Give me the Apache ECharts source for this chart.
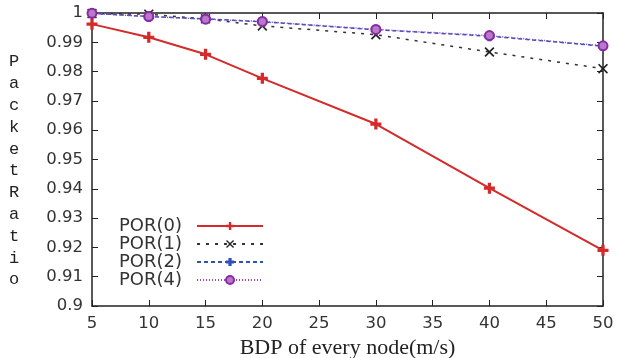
<!DOCTYPE html>
<html>
<head>
<meta charset="utf-8">
<script src="https://cdn.jsdelivr.net/npm/echarts@6/dist/echarts.min.js"></script>
<style>
  html, body {margin: 0; padding: 0; background: #fff;}
  #chart {width: 617px; height: 358px;}
</style>
</head>
<body>
<div id="chart"></div>
<script>
// data
const bdp = [5, 10, 15, 20, 30, 40, 50];
const por0 = [0.9962, 0.9917, 0.9859, 0.9777, 0.9621, 0.9402, 0.9190];
const por1 = [0.9998, 0.9996, 0.9980, 0.9956, 0.9926, 0.9867, 0.9810];
const por2 = [0.9999, 0.9988, 0.9980, 0.9970, 0.9943, 0.9921, 0.9887];
const por4 = [0.9999, 0.9988, 0.9979, 0.9971, 0.9944, 0.9923, 0.9888];
const seriesNames = ['POR(0)', 'POR(1)', 'POR(2)', 'POR(4)'];

const pairs = (ys) => bdp.map((x, i) => [x, ys[i]]);

const plusIcon = 'path://M3.5,0H6.5V3.5H10V6.5H6.5V10H3.5V6.5H0V3.5H3.5Z';
const crossIcon = 'path://M0,1.2L1.2,0L5,3.8L8.8,0L10,1.2L6.2,5L10,8.8L8.8,10L5,6.2L1.2,10L0,8.8L3.8,5Z';
const starIcon = 'path://M3,0H7V3H10V7H7V10H3V7H0V3H3Z';

const chart = echarts.init(document.getElementById('chart'));

const tickFont = {fontFamily: 'DejaVu Sans', fontSize: 16.5, color: '#333'};
const axisLine = {lineStyle: {color: '#222', width: 1.5}};

chart.setOption({
  animation: false,
  grid: {left: 92, right: 14, top: 13, bottom: 52, outerBoundsMode: 'none', containLabel: false},
  legend: {
    orient: 'vertical',
    left: 114,
    top: 212,
    align: 'right',
    itemWidth: 66,
    itemHeight: 10,
    itemGap: 0,
    data: seriesNames,
    textStyle: {
      fontFamily: 'DejaVu Sans', fontSize: 18, color: '#333',
      lineHeight: 17.5, padding: [0, 10, 0, 0]
    }
  },
  xAxis: [
    {
      type: 'value', min: 5, max: 50, interval: 5,
      axisLine: axisLine,
      axisTick: {inside: true, length: 6, lineStyle: {color: '#222'}},
      axisLabel: Object.assign({margin: 9}, tickFont),
      splitLine: {show: false},
      name: 'BDP of every node(m/s)',
      nameLocation: 'middle',
      nameGap: 29,
      nameTextStyle: {fontFamily: 'Liberation Serif', fontSize: 22, color: '#222'}
    },
    {
      type: 'value', min: 5, max: 50, interval: 5, position: 'top',
      axisLine: axisLine,
      axisTick: {inside: true, length: 6, lineStyle: {color: '#222'}},
      axisLabel: {show: false},
      splitLine: {show: false}
    }
  ],
  yAxis: [
    {
      type: 'value', min: 0.9, max: 1, interval: 0.01,
      axisLine: axisLine,
      axisTick: {inside: true, length: 6, lineStyle: {color: '#222'}},
      axisLabel: Object.assign({margin: 9}, tickFont),
      splitLine: {show: false}
    },
    {
      type: 'value', min: 0.9, max: 1, interval: 0.01, position: 'right',
      axisLine: axisLine,
      axisTick: {inside: true, length: 6, lineStyle: {color: '#222'}},
      axisLabel: {show: false},
      splitLine: {show: false}
    }
  ],
  graphic: [{
    type: 'text',
    left: 9,
    top: 51,
    style: {
      text: 'Packet Ratio'.replace(' ', '').split('').join('\n'),
      fontFamily: 'Liberation Mono',
      fontSize: 17,
      lineHeight: 21.8,
      fill: '#222',
      align: 'center'
    }
  }],
  series: [
    {
      name: seriesNames[0], type: 'line', data: pairs(por0),
      symbol: plusIcon, symbolSize: 11,
      itemStyle: {color: '#d42a2a'},
      lineStyle: {color: '#d42a2a', width: 2}
    },
    {
      name: seriesNames[1], type: 'line', data: pairs(por1),
      symbol: crossIcon, symbolSize: 10,
      itemStyle: {color: '#222'},
      lineStyle: {color: '#333', width: 1.5, type: [3, 6]}
    },
    {
      name: seriesNames[2], type: 'line', data: pairs(por2),
      symbol: starIcon, symbolSize: 10,
      itemStyle: {color: '#3050b8'},
      lineStyle: {color: '#3050b8', width: 1.5, type: [4, 3]}
    },
    {
      name: seriesNames[3], type: 'line', data: pairs(por4),
      symbol: 'circle', symbolSize: 9,
      itemStyle: {color: '#b878cc', borderColor: '#8a2aa0', borderWidth: 2},
      lineStyle: {color: '#a040b8', width: 1.5, type: [1, 2]}
    }
  ]
});
</script>
</body>
</html>
